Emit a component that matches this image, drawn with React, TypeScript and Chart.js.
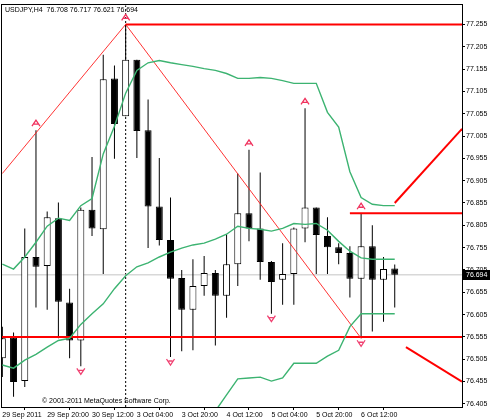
import React, { useEffect, useRef } from "react";
import { Chart, registerables } from "chart.js";

Chart.register(...registerables);

const SYMBOL_TITLE = "USDJPY,H4  76.708 76.717 76.621 76.694";
const COPYRIGHT = "© 2001-2011 MetaQuotes Software Corp.";

// OHLC per H4 bar (index 0 = 29 Sep 2011 04:00)
const opens = [
  76.507, 76.554, 76.456, 76.734, 76.714, 76.821, 76.632, 76.547, 76.84, 76.796,
  77.134, 77.049, 77.176, 77.018, 76.847, 76.772, 76.687, 76.616, 76.669, 76.698,
  76.647, 76.718, 76.832, 76.798, 76.723, 76.683, 76.696, 76.798, 76.845, 76.781,
  76.756, 76.743, 76.685, 76.758, 76.683, 76.708,
];
const highs = [
  76.578, 76.565, 76.798, 77.018, 76.836, 76.856, 76.663, 76.845, 76.958, 77.187,
  77.163, 77.255, 77.176, 77.087, 76.956, 76.867, 76.705, 76.729, 76.736, 76.705,
  76.785, 76.921, 76.974, 76.923, 76.725, 76.765, 76.8, 77.067, 76.845, 76.823,
  76.765, 76.758, 76.832, 76.805, 76.734, 76.717,
];
const lows = [
  76.465, 76.421, 76.443, 76.621, 76.616, 76.552, 76.507, 76.489, 76.781, 76.696,
  76.954, 77.049, 76.956, 76.754, 76.76, 76.51, 76.523, 76.525, 76.647, 76.536,
  76.598, 76.669, 76.769, 76.683, 76.607, 76.627, 76.627, 76.767, 76.696, 76.696,
  76.718, 76.643, 76.552, 76.567, 76.589, 76.621,
];
const closes = [
  76.552, 76.454, 76.734, 76.712, 76.823, 76.634, 76.547, 76.84, 76.798, 77.132,
  77.032, 77.176, 77.016, 76.847, 76.772, 76.685, 76.616, 76.669, 76.698, 76.647,
  76.718, 76.832, 76.798, 76.723, 76.678, 76.696, 76.798, 76.845, 76.783, 76.756,
  76.743, 76.685, 76.758, 76.683, 76.707, 76.694,
];

// Band indicator (green lines)
const upperBand = [
  76.718, 76.707, 76.734, 76.767, 76.803, 76.821, 76.816, 76.849, 76.865, 76.965,
  77.027, 77.101, 77.152, 77.169, 77.174, 77.169, 77.165, 77.161, 77.156, 77.152,
  77.145, 77.134, 77.134, 77.136, 77.134, 77.129, 77.123, 77.123, 77.123, 77.058,
  77.025, 76.925, 76.867, 76.852, 76.849, 76.849,
];
const middleBand = [
  76.492, 76.485, 76.503, 76.516, 76.532, 76.547, 76.552, 76.583, 76.607, 76.629,
  76.663, 76.692, 76.712, 76.721, 76.734, 76.745, 76.754, 76.761, 76.765, 76.774,
  76.785, 76.803, 76.798, 76.796, 76.792, 76.798, 76.809, 76.807, 76.809, 76.794,
  76.769, 76.747, 76.732, 76.729, 76.729, 76.729,
];
const lowerBand = [
  null, null, null, null, null, null, null, null, null, null,
  null, null, null, null, null, null, null, null, null, 76.389,
  76.425, 76.461, 76.463, 76.465, 76.456, 76.463, 76.496, 76.496, 76.496, 76.512,
  76.525, 76.578, 76.607, 76.607, 76.607, 76.607,
];

// Axis ticks
const xTickIndex = [0, 4, 8, 12, 16, 20, 24, 28, 32];
const xTickLabels = [
  "29 Sep 2011", "29 Sep 20:00", "30 Sep 12:00", "3 Oct 04:00", "3 Oct 20:00",
  "4 Oct 12:00", "5 Oct 04:00", "5 Oct 20:00", "6 Oct 12:00",
];
const yTickValues = [
  77.255, 77.205, 77.155, 77.105, 77.055, 77.005, 76.955, 76.905, 76.855,
  76.805, 76.755, 76.705, 76.655, 76.605, 76.555, 76.505, 76.455, 76.405,
];

// Zigzag (thin red)
const zigzagIdx = [0, 11, 32];
const zigzagPrice = [76.921, 77.255, 76.552];

// Arrows
const upArrowIdx = [3, 11, 22, 27, 32];
const downArrowIdx = [7, 15, 24, 32];

// Thick red objects
const levelHighIdx = [11, 41];
const levelHighPrice = [77.255, 77.255];
const levelLowIdx = [-0.03, 41];
const levelLowPrice = [76.555, 76.555];
const levelMidIdx = [31, 41];
const levelMidPrice = [76.832, 76.832];
const projUpIdx = [35, 41];
const projUpPrice = [76.855, 77.021];
const projDownIdx = [36, 41];
const projDownPrice = [76.532, 76.455];

const markerIdx = 11;
const lastPrice = 76.694;

const X_MIN = -0.03;
const X_MAX = 41;
const Y_MIN = 76.398;
const Y_MAX = 77.298;

const FONT_FAMILY = "'Liberation Sans', Arial, sans-serif";
const FONT_SIZE = 7;
const GREEN = "rgb(60,179,113)";

const pts = (xs: number[], ys: number[]) => xs.map((x, i) => ({ x, y: ys[i] }));

const drawArrow = (ctx: CanvasRenderingContext2D, x: number, y: number, up: boolean) => {
  const d = up ? 1 : -1;
  ctx.save();
  ctx.strokeStyle = up ? "#f0305c" : "#f04070";
  ctx.lineWidth = 1.3;
  ctx.beginPath();
  ctx.moveTo(x - 4, y + 3 * d);
  ctx.lineTo(x, y - 3 * d);
  ctx.lineTo(x + 4, y + 3 * d);
  ctx.moveTo(x - 2, y + 1 * d);
  ctx.lineTo(x + 2, y + 1 * d);
  ctx.stroke();
  ctx.restore();
};

const overlayPlugin = {
  id: "mtOverlay",
  afterDatasetsDraw(chart: any) {
    const { ctx, chartArea } = chart;
    const xs = chart.scales.x;
    const ys = chart.scales.y;
    upArrowIdx.forEach((i) => {
      drawArrow(ctx, xs.getPixelForValue(i), ys.getPixelForValue(highs[i]) - 7, true);
    });
    downArrowIdx.forEach((i) => {
      drawArrow(ctx, xs.getPixelForValue(i), ys.getPixelForValue(lows[i]) + 5, false);
    });
    ctx.save();
    ctx.fillStyle = "#000";
    ctx.font = `${FONT_SIZE}px ${FONT_FAMILY}`;
    ctx.textBaseline = "middle";
    ctx.textAlign = "left";
    ctx.fillText(SYMBOL_TITLE, chartArea.left + 3, chartArea.top + 5);
    ctx.fillText(COPYRIGHT, chartArea.left + 40, chartArea.bottom - 6);
    ctx.strokeStyle = "#000";
    ctx.lineWidth = 1;
    ctx.strokeRect(
      Math.round(chartArea.left) - 0.5,
      Math.round(chartArea.top) - 0.5,
      Math.round(chartArea.right - chartArea.left) + 1,
      Math.round(chartArea.bottom - chartArea.top) + 1
    );
    ctx.restore();
  },
  afterDraw(chart: any) {
    const { ctx, chartArea } = chart;
    const ys = chart.scales.y;
    const y = ys.getPixelForValue(lastPrice);
    ctx.save();
    ctx.fillStyle = "#000";
    ctx.fillRect(chartArea.right + 1, Math.round(y) - 5, 28, 10);
    ctx.fillStyle = "#fff";
    ctx.font = `${FONT_SIZE}px ${FONT_FAMILY}`;
    ctx.textBaseline = "middle";
    ctx.textAlign = "left";
    ctx.fillText(lastPrice.toFixed(3), chartArea.right + 4, Math.round(y));
    ctx.restore();
  },
};

const lineDs = (data: any[], color: string, width: number, extra: any = {}) => ({
  type: "line" as const,
  data,
  borderColor: color,
  borderWidth: width,
  pointRadius: 0,
  fill: false,
  tension: 0,
  order: 0,
  clip: 0,
  ...extra,
});

export default function App() {
  const ref = useRef<HTMLCanvasElement | null>(null);

  useEffect(() => {
    if (!ref.current) return;
    const idx = opens.map((_, i) => i);
    const chart = new Chart(ref.current, {
      type: "bar",
      data: {
        datasets: [
          {
            type: "bar",
            data: idx.map((i) => ({ x: i, y: [lows[i], highs[i]] })),
            backgroundColor: "#000",
            borderWidth: 0,
            barThickness: 1,
            grouped: false,
            order: 3,
            inflateAmount: 0,
          } as any,
          {
            type: "bar",
            data: idx.map((i) => ({ x: i, y: [opens[i], closes[i]] })),
            backgroundColor: idx.map((i) => (closes[i] >= opens[i] ? "#fff" : "#000")),
            borderColor: "#000",
            borderWidth: 1,
            borderSkipped: false,
            barThickness: 7,
            grouped: false,
            order: 2,
            inflateAmount: 0,
          } as any,
          lineDs(pts([X_MIN, X_MAX], [lastPrice, lastPrice]), "#c4c4c4", 1, { order: 4 }),
          lineDs(pts([markerIdx, markerIdx], [Y_MIN, Y_MAX]), "#000", 1, { borderDash: [2, 2], order: 4 }),
          lineDs(idx.map((i) => ({ x: i, y: upperBand[i] })), GREEN, 1.4),
          lineDs(idx.map((i) => ({ x: i, y: middleBand[i] })), GREEN, 1.4),
          lineDs(
            idx.filter((i) => lowerBand[i] !== null).map((i) => ({ x: i, y: lowerBand[i] })),
            GREEN,
            1.4
          ),
          lineDs(pts(zigzagIdx, zigzagPrice), "rgba(255,30,30,0.9)", 1),
          lineDs(pts(levelHighIdx, levelHighPrice), "#ff0000", 2),
          lineDs(pts(levelLowIdx, levelLowPrice), "#ff0000", 2),
          lineDs(pts(levelMidIdx, levelMidPrice), "#ff0000", 2),
          lineDs(pts(projUpIdx, projUpPrice), "#ff0000", 2),
          lineDs(pts(projDownIdx, projDownPrice), "#ff0000", 2),
        ],
      },
      options: {
        responsive: false,
        animation: false,
        events: [],
        layout: { padding: { top: 2, left: 2, right: 0, bottom: 0 } },
        plugins: { legend: { display: false }, tooltip: { enabled: false }, title: { display: false } },
        scales: {
          x: {
            type: "linear",
            min: X_MIN,
            max: X_MAX,
            offset: false,
            afterBuildTicks: (s: any) => {
              s.ticks = xTickIndex.map((v) => ({ value: v }));
            },
            afterFit: (s: any) => {
              s.height = 13;
            },
            grid: { drawOnChartArea: false, drawTicks: true, tickLength: 3, color: "#000" },
            border: { display: true, color: "#000" },
            ticks: {
              autoSkip: false,
              maxRotation: 0,
              align: "start",
              padding: 1,
              color: "#000",
              font: { size: FONT_SIZE, family: FONT_FAMILY },
              callback: (v: any) => {
                const k = xTickIndex.indexOf(Number(v));
                return k >= 0 ? xTickLabels[k] : "";
              },
            },
          },
          y: {
            type: "linear",
            position: "right",
            min: Y_MIN,
            max: Y_MAX,
            afterBuildTicks: (s: any) => {
              s.ticks = yTickValues.map((v) => ({ value: v }));
            },
            afterFit: (s: any) => {
              s.width = 28;
            },
            grid: { drawOnChartArea: false, drawTicks: true, tickLength: 3, color: "#000" },
            border: { display: true, color: "#000" },
            ticks: {
              padding: 1,
              crossAlign: "near",
              color: "#000",
              font: { size: FONT_SIZE, family: FONT_FAMILY },
              callback: (v: any) => Number(v).toFixed(3),
            },
          },
        },
      } as any,
      plugins: [overlayPlugin],
    });
    return () => chart.destroy();
  }, []);

  return (
    <div style={{ position: "absolute", left: 0, top: 0, width: 490, height: 420, background: "#fff" }}>
      <canvas ref={ref} width={490} height={420} style={{ display: "block" }} />
    </div>
  );
}
